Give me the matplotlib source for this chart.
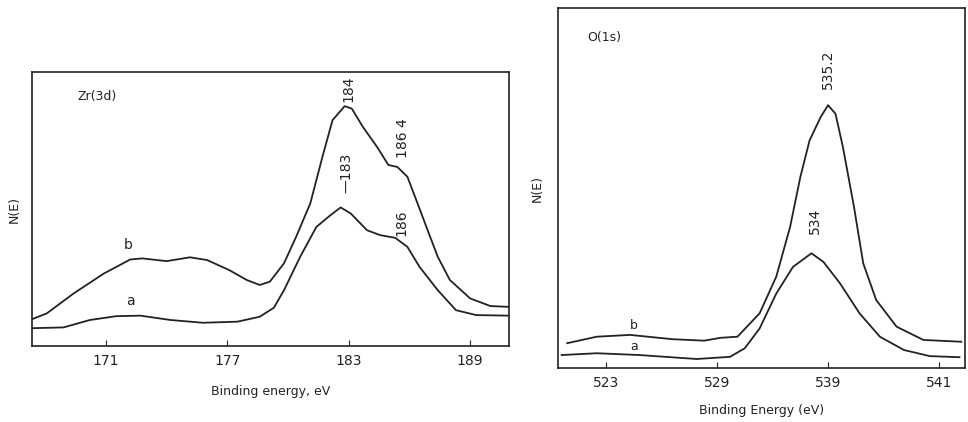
import numpy as np
import matplotlib.pyplot as plt

# Zr(3d) painel esquerdo
zr_x_b = [167.24, 168.07, 169.4, 170.9, 172.2, 172.8, 174.0, 175.15, 176.0, 177.1, 177.96, 178.6,
          179.1, 179.8, 180.4, 181.1, 181.7, 182.2, 182.8, 183.15, 183.7, 184.4, 184.96, 185.4,
          185.9, 186.4, 186.9, 187.4, 188.0, 189.0, 190.0, 190.93]
zr_y_b = [9.5, 11.9, 19.2, 26.5, 31.6, 32.0, 31.0, 32.4, 31.4, 27.7, 24.1, 22.3,
          23.5, 30.2, 39.9, 52.1, 69.1, 82.5, 87.6, 86.7, 80.0, 72.7, 66.1, 65.4,
          61.8, 52.1, 42.3, 32.6, 24.1, 17.4, 14.6, 14.3]
zr_x_a = [167.24, 168.9, 170.2, 171.5, 172.7, 174.2, 175.8, 177.5, 178.6, 179.3, 179.8, 180.6,
          181.4, 182.1, 182.6, 183.1, 183.9, 184.55, 185.3, 185.9, 186.5, 187.4, 188.3, 189.3, 190.93]
zr_y_a = [6.5, 6.8, 9.5, 10.9, 11.1, 9.5, 8.5, 8.9, 10.7, 14.0, 20.4, 32.6,
          43.5, 47.8, 50.6, 48.4, 42.3, 40.5, 39.5, 36.2, 28.9, 20.4, 13.1, 11.3, 11.1]
zr_ticks = [171, 177, 183, 189]

# O(1s) painel direito
o_x_b = [520.9, 522.5, 524.3, 526.6, 528.3, 529.2, 530.1, 531.3, 532.2, 532.95, 533.5, 534.0,
         534.6, 535.0, 535.4, 535.8, 536.4, 536.9, 537.6, 538.7, 540.15, 542.2]
o_y_b = [6.9, 8.7, 9.2, 8.0, 7.6, 8.4, 8.7, 15.2, 25.4, 39.3, 53.1, 63.3,
         69.8, 73.1, 70.7, 61.5, 44.8, 29.1, 18.9, 11.5, 7.8, 7.3]
o_x_a = [520.6, 522.5, 524.8, 527.9, 529.7, 530.5, 531.3, 532.2, 533.1, 534.1, 534.75, 535.65,
         536.7, 537.8, 539.1, 540.5, 542.1]
o_y_a = [3.6, 4.1, 3.6, 2.5, 3.1, 5.5, 11.0, 20.7, 28.1, 31.9, 29.5, 23.5,
         15.2, 8.7, 5.0, 3.3, 3.0]
o_ticks = [523, 529, 535, 541]
o_tick_labels = ['523', '529', '539', '541']  # como impresso no original

cor = '#222222'
fig = plt.figure(figsize=(9.68, 4.22), dpi=100)

ax1 = fig.add_axes([0.033, 0.180, 0.493, 0.649])
ax1.plot(zr_x_b, zr_y_b, color=cor, lw=1.3, solid_joinstyle='round')
ax1.plot(zr_x_a, zr_y_a, color=cor, lw=1.3, solid_joinstyle='round')
ax1.set_xlim(167.34, 190.93)
ax1.set_ylim(0, 100)
ax1.set_xticks(zr_ticks)
ax1.set_yticks([])
ax1.tick_params(axis='x', direction='in', length=4, labelsize=10, colors=cor, pad=6)
ax1.set_xlabel('Binding energy, eV', fontsize=9, color=cor, labelpad=12)
ax1.set_ylabel('N(E)', fontsize=9, color=cor, labelpad=8)
ax1.text(169.6, 91, 'Zr(3d)', fontsize=9, color=cor, va='center')
ax1.text(172.1, 37, 'b', fontsize=10, color=cor, ha='center', va='center')
ax1.text(172.2, 16.5, 'a', fontsize=10, color=cor, ha='center', va='center')
ax1.text(183.0, 94, '184', fontsize=10, color=cor, rotation=90, ha='center', va='center')
ax1.text(182.9, 56, '—183', fontsize=10, color=cor, rotation=90, ha='center', va='bottom')
ax1.text(185.7, 76, '186 4', fontsize=10, color=cor, rotation=90, ha='center', va='center')
ax1.text(185.6, 45, '186', fontsize=10, color=cor, rotation=90, ha='center', va='center')

ax2 = fig.add_axes([0.5764, 0.128, 0.4205, 0.852])
ax2.plot(o_x_b, o_y_b, color=cor, lw=1.3, solid_joinstyle='round')
ax2.plot(o_x_a, o_y_a, color=cor, lw=1.3, solid_joinstyle='round')
ax2.set_xlim(520.4, 542.4)
ax2.set_ylim(0, 100)
ax2.set_xticks(o_ticks)
ax2.set_xticklabels(o_tick_labels)
ax2.set_yticks([])
ax2.tick_params(axis='x', direction='in', length=4, labelsize=10, colors=cor, pad=6)
ax2.set_xlabel('Binding Energy (eV)', fontsize=9, color=cor, labelpad=10)
ax2.set_ylabel('N(E)', fontsize=9, color=cor, labelpad=10)
ax2.text(522.0, 92, 'O(1s)', fontsize=9, color=cor, va='center')
ax2.text(535.0, 83, '535.2', fontsize=10, color=cor, rotation=90, ha='center', va='center')
ax2.text(534.3, 41, '534', fontsize=10, color=cor, rotation=90, ha='center', va='center')
ax2.text(524.5, 11.8, 'b', fontsize=9, color=cor, ha='center', va='center')
ax2.text(524.5, 6.0, 'a', fontsize=9, color=cor, ha='center', va='center')

for ax in (ax1, ax2):
    for s in ax.spines.values():
        s.set_color(cor)
        s.set_linewidth(1.2)

fig.savefig('out.png', dpi=100)
